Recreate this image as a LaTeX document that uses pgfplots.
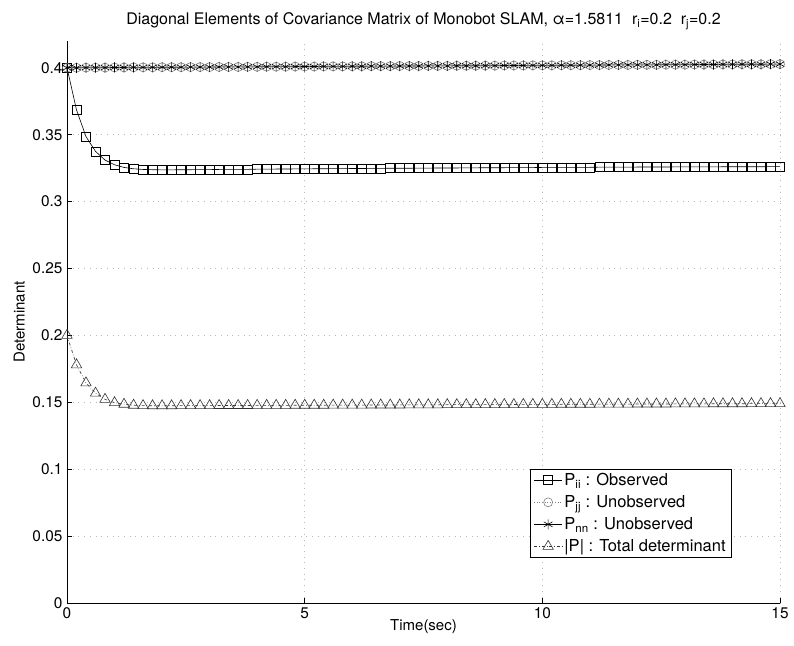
\documentclass[border=0pt]{standalone}
\usepackage{pgfplots}
\usepackage{pgfplotstable}
\pgfplotsset{compat=1.18}
\usepackage{fontspec}
\setmainfont{TeX Gyre Heros}

% t [s], P_ii, P_nn (= P_jj), |P|
\pgfplotstableread{
t Pii Pnn Pdet
0.0 0.4000 0.4000 0.2000
0.2 0.3685 0.4000 0.1780
0.4 0.3485 0.4001 0.1645
0.6 0.3375 0.4001 0.1568
0.8 0.3310 0.4001 0.1522
1.0 0.3275 0.4002 0.1497
1.2 0.3255 0.4002 0.1485
1.4 0.3245 0.4003 0.1478
1.6 0.3240 0.4003 0.1475
1.8 0.3238 0.4003 0.1474
2.0 0.3237 0.4004 0.1474
2.2 0.3237 0.4004 0.1474
2.4 0.3238 0.4004 0.1475
2.6 0.3238 0.4005 0.1475
2.8 0.3239 0.4005 0.1475
3.0 0.3239 0.4005 0.1475
3.2 0.3240 0.4006 0.1476
3.4 0.3240 0.4006 0.1476
3.6 0.3241 0.4006 0.1476
3.8 0.3241 0.4007 0.1476
4.0 0.3242 0.4007 0.1477
4.2 0.3242 0.4008 0.1477
4.4 0.3243 0.4008 0.1477
4.6 0.3243 0.4008 0.1477
4.8 0.3244 0.4009 0.1478
5.0 0.3244 0.4009 0.1478
5.2 0.3245 0.4009 0.1478
5.4 0.3245 0.4010 0.1478
5.6 0.3246 0.4010 0.1479
5.8 0.3246 0.4010 0.1479
6.0 0.3247 0.4011 0.1479
6.2 0.3247 0.4011 0.1479
6.4 0.3248 0.4012 0.1480
6.6 0.3248 0.4012 0.1480
6.8 0.3249 0.4012 0.1480
7.0 0.3249 0.4013 0.1480
7.2 0.3249 0.4013 0.1481
7.4 0.3250 0.4013 0.1481
7.6 0.3250 0.4014 0.1481
7.8 0.3251 0.4014 0.1481
8.0 0.3251 0.4014 0.1482
8.2 0.3251 0.4015 0.1482
8.4 0.3252 0.4015 0.1482
8.6 0.3252 0.4015 0.1482
8.8 0.3253 0.4016 0.1483
9.0 0.3253 0.4016 0.1483
9.2 0.3253 0.4017 0.1483
9.4 0.3254 0.4017 0.1483
9.6 0.3254 0.4017 0.1484
9.8 0.3254 0.4018 0.1484
10.0 0.3255 0.4018 0.1484
10.2 0.3255 0.4018 0.1484
10.4 0.3255 0.4019 0.1485
10.6 0.3256 0.4019 0.1485
10.8 0.3256 0.4019 0.1485
11.0 0.3256 0.4020 0.1485
11.2 0.3257 0.4020 0.1486
11.4 0.3257 0.4021 0.1486
11.6 0.3257 0.4021 0.1486
11.8 0.3257 0.4021 0.1486
12.0 0.3258 0.4022 0.1487
12.2 0.3258 0.4022 0.1487
12.4 0.3258 0.4022 0.1487
12.6 0.3258 0.4023 0.1487
12.8 0.3259 0.4023 0.1488
13.0 0.3259 0.4023 0.1488
13.2 0.3259 0.4024 0.1488
13.4 0.3259 0.4024 0.1488
13.6 0.3259 0.4024 0.1489
13.8 0.3260 0.4025 0.1489
14.0 0.3260 0.4025 0.1489
14.2 0.3260 0.4026 0.1489
14.4 0.3260 0.4026 0.1490
14.6 0.3260 0.4026 0.1490
14.8 0.3261 0.4027 0.1490
15.0 0.3261 0.4027 0.1490
}\covdata

\begin{document}
\begin{tikzpicture}
\begin{axis}[
  scale only axis,
  width=713pt, height=562pt,
  xmin=0, xmax=15, ymin=0, ymax=0.42,
  axis x line*=bottom, axis y line*=left,
  axis line style={black, line width=0.7pt, -},
  xtick={0,5,10,15},
  ytick={0,0.05,0.1,0.15,0.2,0.25,0.3,0.35,0.4},
  yticklabels={0,0.05,0.1,0.15,0.2,0.25,0.3,0.35,0.4},
  tick align=inside,
  major tick length=5pt,
  tick style={black, line width=0.6pt},
  grid=major,
  major grid style={gray!55, line width=0.7pt, dash pattern=on 0.7pt off 5pt},
  /pgf/number format/assume math mode=true,
  tick label style={font=\fontsize{15.4}{17}\selectfont},
  xticklabel style={yshift=-1pt},
  yticklabel style={xshift=-1pt},
  label style={font=\fontsize{15}{17}\selectfont},
  xlabel={Time(sec)},
  ylabel={Determinant},
  xlabel style={yshift=6pt},
  ylabel style={at={(axis description cs:-0.067,0.5)}, anchor=center},
  title={Diagonal Elements of Covariance Matrix of Monobot SLAM, α=1.5811\ \ r\textsubscript{i}=0.2\ \ r\textsubscript{j}=0.2},
  title style={font=\fontsize{16}{18}\selectfont, yshift=2pt},
  legend cell align=left,
  legend style={
    at={(axis cs:9.73,0.034)}, anchor=south west,
    font=\fontsize{16.5}{19}\selectfont,
    draw=black, line width=0.7pt, fill=white,
    inner xsep=4pt, inner ysep=2pt,
    row sep=4.5pt,
  },
  legend image code/.code={
    \draw[mark repeat=2, mark phase=2] plot coordinates {(0pt,0pt) (14pt,0pt) (28pt,0pt)};
  },
  every axis plot/.append style={line width=0.6pt},
]
\addplot[black, mark=square, mark size=4.5pt, mark options={solid, fill=none}]
  table[x=t, y=Pii] {\covdata};
\addlegendentry{P\textsubscript{ii} : Observed}
\addplot[gray, dotted, mark=o, mark size=4.5pt, mark options={solid, gray, fill=none}]
  table[x=t, y=Pnn] {\covdata};
\addlegendentry{P\textsubscript{jj} : Unobserved}
\addplot[black, mark=asterisk, mark size=5pt, mark options={solid}]
  table[x=t, y=Pnn] {\covdata};
\addlegendentry{P\textsubscript{nn} : Unobserved}
\addplot[black!80, dashdotted, mark=triangle, mark size=6pt, mark options={solid, black!80, fill=none}]
  table[x=t, y=Pdet] {\covdata};
\addlegendentry{|P| : Total determinant}
\end{axis}
\pgfresetboundingbox
\useasboundingbox
  ([shift={(-67pt,-43pt)}]current axis.south west)
  rectangle ([shift={(14pt,41pt)}]current axis.north east);
\end{tikzpicture}
\end{document}
